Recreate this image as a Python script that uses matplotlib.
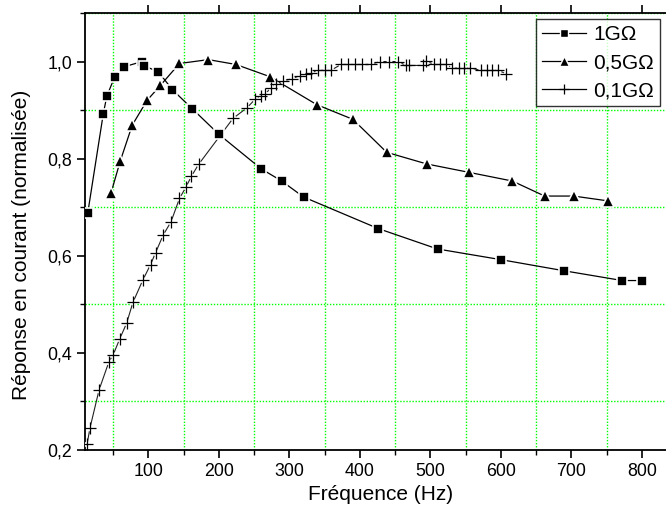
import matplotlib
matplotlib.use("Agg")
import matplotlib.pyplot as plt
from matplotlib.ticker import MultipleLocator, FuncFormatter
from matplotlib.lines import Line2D

plt.rcParams['font.family'] = ['Liberation Sans', 'DejaVu Sans']

# ---- data ----
freq_1g = [14, 36, 41, 52, 65, 91, 94, 114, 134, 162, 200, 260, 289, 320,
           426, 510, 600, 690, 772, 800]
resp_1g = [0.689, 0.893, 0.929, 0.968, 0.989, 1.000, 0.991, 0.979, 0.942, 0.903,
           0.850, 0.779, 0.754, 0.721, 0.656, 0.614, 0.592, 0.569, 0.549, 0.549]

freq_05g = [47, 60, 77, 98, 117, 144, 185, 224, 272, 339, 390, 438, 495, 554,
            616, 662, 703, 752]
resp_05g = [0.730, 0.795, 0.869, 0.920, 0.951, 0.996, 1.004, 0.994, 0.969, 0.911,
            0.881, 0.813, 0.789, 0.772, 0.754, 0.723, 0.723, 0.713]

freq_01g = [13, 17, 30, 44, 50, 59, 69, 78, 92, 103, 110, 121, 132, 144, 153,
            161, 171, 220, 240, 251, 259, 266, 274, 281, 291, 304, 315, 323, 331, 341,
            350, 359, 373, 383, 393, 403, 415, 428, 441, 454, 465, 470, 489, 493, 505,
            514, 522, 531, 541, 548, 556, 571, 580, 588, 596, 607]
resp_01g = [0.212, 0.245, 0.324, 0.382, 0.396, 0.428, 0.461, 0.504, 0.550, 0.582,
            0.606, 0.643, 0.670, 0.718, 0.741, 0.764, 0.788, 0.883, 0.905, 0.922,
            0.929, 0.934, 0.946, 0.953, 0.960, 0.965, 0.971, 0.974, 0.977, 0.982,
            0.982, 0.982, 0.994, 0.994, 0.994, 0.994, 0.994, 1.000, 1.000, 1.000,
            0.992, 0.992, 0.992, 1.002, 0.994, 0.994, 0.994, 0.987, 0.987, 0.987,
            0.987, 0.982, 0.982, 0.982, 0.982, 0.975]

labels = ['1G\u03A9', '0,5G\u03A9', '0,1G\u03A9']
x_title = 'Fréquence (Hz)'
y_title = 'Réponse en courant (normalisée)'

# ---- figure ----
W, H = 666, 518
fig = plt.figure(figsize=(W / 100, H / 100), dpi=100)
ax = fig.add_axes([85 / W, (H - 450) / H, (W - 85) / W + 0.002, (450 - 13) / H])

ax.set_xlim(10, 836)
ax.set_ylim(0.2, 1.1)

ax.xaxis.set_major_locator(MultipleLocator(100))
ax.xaxis.set_minor_locator(MultipleLocator(50))
ax.yaxis.set_major_locator(MultipleLocator(0.2))
ax.yaxis.set_minor_locator(MultipleLocator(0.1))
ax.yaxis.set_major_formatter(FuncFormatter(lambda v, p: f"{v:.1f}".replace('.', ',')))
ax.xaxis.set_major_formatter(FuncFormatter(lambda v, p: f"{int(round(v))}"))

ax.grid(which='minor', color='#00ff00', linestyle=(0, (1, 1.2)), linewidth=1.0)
ax.grid(which='major', visible=False)
ax.set_axisbelow(True)

for s in ['left', 'bottom', 'top']:
    ax.spines[s].set_linewidth(1.3)
ax.spines['right'].set_visible(False)

ax.tick_params(axis='both', which='major', direction='out', length=6, width=1.2,
               labelsize=12.8, pad=3)
ax.tick_params(axis='both', which='minor', direction='out', length=3.5, width=1.0)
ax.tick_params(axis='x', which='major', top=True)

lw = 0.9
# 1 GOhm
ax.plot(freq_1g, resp_1g, color='black', lw=lw, zorder=3)
ax.plot(freq_1g, resp_1g, ls='none', marker='s', ms=7.5, mfc='black', mec='white',
        mew=1.2, zorder=4)
# 0.5 GOhm
ax.plot(freq_05g, resp_05g, color='black', lw=lw, zorder=3)
ax.plot(freq_05g, resp_05g, ls='none', marker='^', ms=9, mfc='black', mec='white',
        mew=1.2, zorder=4)
# 0.1 GOhm
ax.plot(freq_01g, resp_01g, color='#222222', lw=0.8, zorder=3)
ax.plot(freq_01g, resp_01g, ls='none', marker='o', ms=4.5, mfc='white', mec='none',
        zorder=3.5)
ax.plot(freq_01g, resp_01g, ls='none', marker='+', ms=8, mec='black',
        mew=0.9, zorder=4)

ax.set_xlabel(x_title, fontsize=15)
ax.set_ylabel(y_title, fontsize=15)
ax.xaxis.set_label_coords((380 - 85) / (W - 85), -(494 - 450) / (450 - 13))
ax.yaxis.set_label_coords(-(85 - 22) / (W - 85), (450 - 245) / (450 - 13))
ax.xaxis.label.set_va('center')
ax.yaxis.label.set_va('center')

handles = [
    Line2D([], [], color='black', lw=lw, marker='s', ms=6, mfc='black', mec='white', mew=1.0),
    Line2D([], [], color='black', lw=lw, marker='^', ms=7, mfc='black', mec='white', mew=1.0),
    Line2D([], [], color='black', lw=lw, marker='+', ms=7, mec='black', mew=0.9),
]
leg = fig.legend(handles, labels, loc='upper right',
                 bbox_to_anchor=(660 / W, (H - 19) / H),
                 fontsize=15, frameon=True, fancybox=False, shadow=False,
                 borderpad=0.3, labelspacing=0.43, handlelength=2.1,
                 handletextpad=0.35, borderaxespad=0, numpoints=1)
leg.get_frame().set_edgecolor('black')
leg.get_frame().set_linewidth(1.0)

fig.savefig('out.png', dpi=100)
